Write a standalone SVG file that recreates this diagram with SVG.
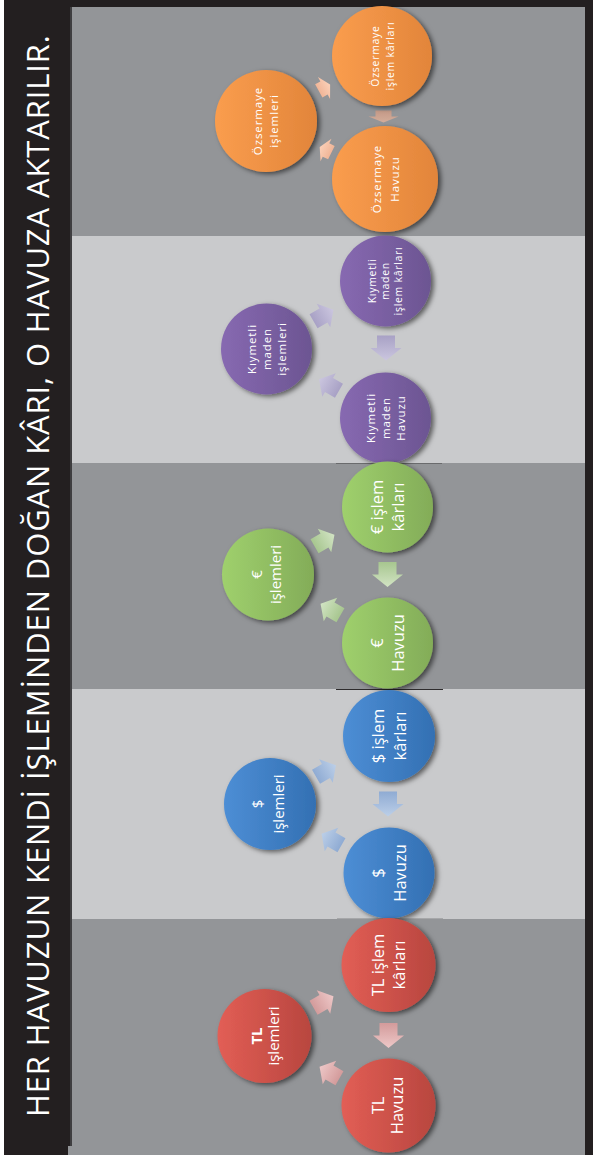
<svg xmlns="http://www.w3.org/2000/svg" width="593" height="1155" viewBox="0 0 593 1155">
  <style>
    .t{font-family:"Open Sans","Noto Sans",sans-serif;fill:#fff;text-anchor:middle}
    .lg{font-size:16.5px}
    .md{font-size:15px}
    .sm{font-size:10.5px;letter-spacing:0.7px}
    .pm{font-size:11.5px;letter-spacing:0.9px}
    .b{font-weight:bold}
    .node{filter:url(#shadow)}
  </style>
  <defs>
    <filter id="shadow" x="-20%" y="-20%" width="145%" height="145%">
      <feDropShadow dx="3" dy="2" stdDeviation="2.5" flood-color="#000" flood-opacity="0.55"/>
    </filter>
    <linearGradient id="gOr" x1="0" y1="0" x2="1" y2="0"><stop offset="0" stop-color="#fa9d4e"/><stop offset="1" stop-color="#e2853a"/></linearGradient>
    <linearGradient id="gPu" x1="0" y1="0" x2="1" y2="0"><stop offset="0" stop-color="#8769b1"/><stop offset="1" stop-color="#6c5592"/></linearGradient>
    <linearGradient id="gGr" x1="0" y1="0" x2="1" y2="0"><stop offset="0" stop-color="#9fd06d"/><stop offset="1" stop-color="#83ac58"/></linearGradient>
    <linearGradient id="gBl" x1="0" y1="0" x2="1" y2="0"><stop offset="0" stop-color="#4d8ed5"/><stop offset="1" stop-color="#3370b3"/></linearGradient>
    <linearGradient id="gRd" x1="0" y1="0" x2="1" y2="0"><stop offset="0" stop-color="#e25e55"/><stop offset="1" stop-color="#b8463f"/></linearGradient>
    <!-- arrow tints -->
    <linearGradient id="aOr" x1="0" y1="0" x2="1" y2="0"><stop offset="0" stop-color="#f0b597"/><stop offset="1" stop-color="#fbd0b8"/></linearGradient>
    <linearGradient id="aOr2" x1="0" y1="0" x2="1" y2="0"><stop offset="0" stop-color="#c49987"/><stop offset="1" stop-color="#d4ad9a"/></linearGradient>
    <linearGradient id="aPu" x1="0" y1="0" x2="1" y2="0"><stop offset="0" stop-color="#a8a1c5"/><stop offset="1" stop-color="#cbc6df"/></linearGradient>
    <linearGradient id="aGr" x1="0" y1="0" x2="1" y2="0"><stop offset="0" stop-color="#a7c68f"/><stop offset="1" stop-color="#d2e4c4"/></linearGradient>
    <linearGradient id="aBl" x1="0" y1="0" x2="1" y2="0"><stop offset="0" stop-color="#8fabd3"/><stop offset="1" stop-color="#bccfe8"/></linearGradient>
    <linearGradient id="aRd" x1="0" y1="0" x2="1" y2="0"><stop offset="0" stop-color="#d39b9b"/><stop offset="1" stop-color="#eec8c8"/></linearGradient>
    <!-- block arrows pointing along +x, centred on the origin -->
    <path id="arrBig" d="M-12.5,-9 L0,-9 L0,-15.5 L12.5,0 L0,15.5 L0,9 L-12.5,9 Z"/>
    <path id="arrSm" d="M-11.5,-8 L0,-8 L0,-13.5 L11.5,0 L0,13.5 L0,8 L-11.5,8 Z"/>
    <path id="arrFlat" d="M-6,-8 L0,-8 L0,-15 L6,0 L0,15 L0,8 L-6,8 Z"/>
    <path id="arrShort" d="M-6,-7.5 L0,-7.5 L0,-12.5 L7,0 L0,12.5 L0,7.5 L-6,7.5 Z"/>
  </defs>

  <!-- frame -->
  <rect x="0" y="0" width="593" height="1155" fill="#231f20"/>
  <rect x="0" y="0" width="4" height="1155" fill="#ffffff"/>

  <!-- bands -->
  <g id="bands">
    <rect x="72" y="7" width="513" height="229" fill="#939598"/>
    <rect x="72" y="236" width="513" height="227" fill="#c9cacc"/>
    <rect x="72" y="463" width="513" height="226" fill="#939598"/>
    <rect x="72" y="689" width="513" height="230" fill="#c9cacc"/>
    <rect x="72" y="919" width="513" height="236" fill="#939598"/>
    <rect x="68" y="1146" width="5" height="9" fill="#939598"/>
    <line x1="71" y1="7" x2="71" y2="1146" stroke="#5d5e60" stroke-width="1"/>
    <line x1="336" y1="463.5" x2="442" y2="463.5" stroke="#6a6b6d" stroke-width="1"/>
    <line x1="336" y1="689.5" x2="443" y2="689.5" stroke="#2e2c2d" stroke-width="1"/>
    <line x1="337" y1="918.5" x2="443" y2="918.5" stroke="#a6a7a9" stroke-width="1"/>
  </g>

  <!-- title -->
  <text transform="translate(49,1117) rotate(-90)" font-family="'Open Sans','Noto Sans',sans-serif" font-size="31" fill="#ffffff" textLength="1082" lengthAdjust="spacing">HER HAVUZUN KENDİ İŞLEMİNDEN DOĞAN KÂRI, O HAVUZA AKTARILIR.</text>

  <!-- connectors -->
  <g id="connectors">
    <use href="#arrShort" fill="url(#aOr)" transform="translate(324,88) rotate(-29)"/>
    <use href="#arrFlat" fill="url(#aOr2)" transform="translate(383.5,116.5) rotate(90)"/>
    <use href="#arrShort" fill="url(#aOr)" transform="translate(326,150) rotate(-154)"/>

    <use href="#arrSm" fill="url(#aPu)" transform="translate(323.5,315.5) rotate(-30)"/>
    <use href="#arrBig" fill="url(#aPu)" transform="translate(386,348) rotate(90)"/>
    <use href="#arrSm" fill="url(#aPu)" transform="translate(329,385) rotate(-150)"/>

    <use href="#arrSm" fill="url(#aGr)" transform="translate(324.5,540.5) rotate(-30)"/>
    <use href="#arrBig" fill="url(#aGr)" transform="translate(387.5,574.5) rotate(90)"/>
    <use href="#arrSm" fill="url(#aGr)" transform="translate(330.5,609.5) rotate(-150)"/>

    <use href="#arrSm" fill="url(#aBl)" transform="translate(326,771) rotate(-30)"/>
    <use href="#arrBig" fill="url(#aBl)" transform="translate(388,804) rotate(90)"/>
    <use href="#arrSm" fill="url(#aBl)" transform="translate(331.5,839.5) rotate(-150)"/>

    <use href="#arrSm" fill="url(#aRd)" transform="translate(323.5,1002) rotate(-30)"/>
    <use href="#arrBig" fill="url(#aRd)" transform="translate(388.5,1035.5) rotate(90)"/>
    <use href="#arrSm" fill="url(#aRd)" transform="translate(329.5,1072.5) rotate(-150)"/>
  </g>

  <!-- Özsermaye -->
  <g id="oz-karlar">
    <circle class="node" cx="382" cy="56" r="50" fill="url(#gOr)"/>
    <g transform="translate(382,56) rotate(-90)"><text class="t sm"><tspan x="0" y="-3.5">Özsermaye</tspan><tspan x="0" y="11.5">işlem kârları</tspan></text></g>
  </g>
  <g id="oz-havuz">
    <circle class="node" cx="385" cy="179" r="53" fill="url(#gOr)"/>
    <g transform="translate(385,179) rotate(-90)"><text class="t pm"><tspan x="0" y="-4">Özsermaye</tspan><tspan x="0" y="13.5">Havuzu</tspan></text></g>
  </g>
  <g id="oz-islemler">
    <circle class="node" cx="266" cy="121" r="51" fill="url(#gOr)"/>
    <g transform="translate(266,121) rotate(-90)"><text class="t pm"><tspan x="0" y="-4">Özsermaye</tspan><tspan x="0" y="12">işlemleri</tspan></text></g>
  </g>

  <!-- Kıymetli maden -->
  <g id="km-karlar">
    <circle class="node" cx="385.5" cy="281" r="45.5" fill="url(#gPu)"/>
    <g transform="translate(385.5,281) rotate(-90)"><text class="t sm"><tspan x="0" y="-10">Kıymetli</tspan><tspan x="0" y="3">maden</tspan><tspan x="0" y="16">işlem kârları</tspan></text></g>
  </g>
  <g id="km-havuz">
    <circle class="node" cx="385.5" cy="418" r="45.5" fill="url(#gPu)"/>
    <g transform="translate(385.5,418) rotate(-90)"><text class="t pm"><tspan x="0" y="-10.5">Kıymetli</tspan><tspan x="0" y="4.5">maden</tspan><tspan x="0" y="19.5">Havuzu</tspan></text></g>
  </g>
  <g id="km-islemler">
    <circle class="node" cx="266.5" cy="349" r="45.5" fill="url(#gPu)"/>
    <g transform="translate(266.5,349) rotate(-90)"><text class="t pm"><tspan x="0" y="-11">Kıymetli</tspan><tspan x="0" y="4">maden</tspan><tspan x="0" y="19">işlemleri</tspan></text></g>
  </g>

  <!-- € -->
  <g id="eur-karlar">
    <circle class="node" cx="387.5" cy="507" r="45.5" fill="url(#gGr)"/>
    <g transform="translate(387.5,507) rotate(-90)"><text class="t lg"><tspan x="0" y="-5">€ işlem</tspan><tspan x="0" y="16.5">kârları</tspan></text></g>
  </g>
  <g id="eur-havuz">
    <circle class="node" cx="387.5" cy="643" r="45.5" fill="url(#gGr)"/>
    <g transform="translate(387.5,643) rotate(-90)"><text class="t lg"><tspan x="0" y="-5">€</tspan><tspan x="0" y="16.5">Havuzu</tspan></text></g>
  </g>
  <g id="eur-islemler">
    <circle class="node" cx="268" cy="574.5" r="46" fill="url(#gGr)"/>
    <g transform="translate(268,574.5) rotate(-90)"><text class="t md"><tspan x="0" y="-6">€</tspan><tspan x="0" y="13">işlemleri</tspan></text></g>
  </g>

  <!-- $ -->
  <g id="usd-karlar">
    <circle class="node" cx="389" cy="736" r="46" fill="url(#gBl)"/>
    <g transform="translate(389,736) rotate(-90)"><text class="t lg"><tspan x="0" y="-5">$ işlem</tspan><tspan x="0" y="16.5">kârları</tspan></text></g>
  </g>
  <g id="usd-havuz">
    <circle class="node" cx="389" cy="873" r="45.5" fill="url(#gBl)"/>
    <g transform="translate(389,873) rotate(-90)"><text class="t lg"><tspan x="0" y="-5">$</tspan><tspan x="0" y="16.5">Havuzu</tspan></text></g>
  </g>
  <g id="usd-islemler">
    <circle class="node" cx="270" cy="804" r="46" fill="url(#gBl)"/>
    <g transform="translate(270,804) rotate(-90)"><text class="t md"><tspan x="0" y="-7">$</tspan><tspan x="0" y="14">işlemleri</tspan></text></g>
  </g>

  <!-- TL -->
  <g id="tl-karlar">
    <circle class="node" cx="388.5" cy="965" r="47" fill="url(#gRd)"/>
    <g transform="translate(388.5,965) rotate(-90)"><text class="t lg"><tspan x="0" y="-5">TL işlem</tspan><tspan x="0" y="16.5">kârları</tspan></text></g>
  </g>
  <g id="tl-havuz">
    <circle class="node" cx="388.5" cy="1105.5" r="47" fill="url(#gRd)"/>
    <g transform="translate(388.5,1105.5) rotate(-90)"><text class="t lg"><tspan x="0" y="-5">TL</tspan><tspan x="0" y="14.5">Havuzu</tspan></text></g>
  </g>
  <g id="tl-islemler">
    <circle class="node" cx="264.5" cy="1036" r="47" fill="url(#gRd)"/>
    <g transform="translate(264.5,1036) rotate(-90)"><text class="t md"><tspan class="b" x="0" y="-3">TL</tspan><tspan x="0" y="14.5">işlemleri</tspan></text></g>
  </g>
</svg>
